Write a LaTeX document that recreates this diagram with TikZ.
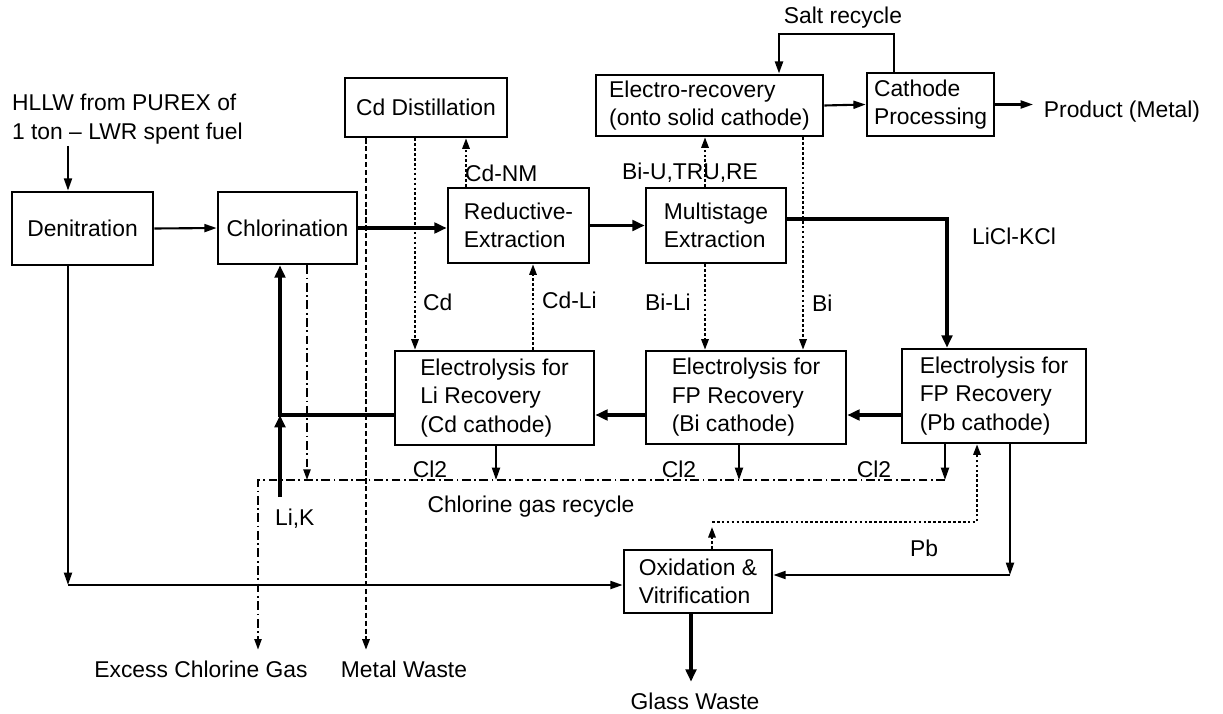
\documentclass[tikz,border=0pt]{standalone}
\usepackage{fontspec}
\setmainfont{Liberation Sans}
\usetikzlibrary{arrows.meta}

\begin{document}
\begin{tikzpicture}[x=0.02cm, y=-0.02cm,
        font=\fontsize{13}{16.2}\selectfont,
        unit/.style={draw, line width=1.5pt, align=left, inner sep=2pt},
        lbl/.style={inner sep=1pt},
        sink/.style={inner sep=6pt},
        flow/.style={line width=1.2pt, -{Triangle[length=7pt,width=4.5pt]}},
        heavy/.style={line width=2.2pt, -{Triangle[length=7pt,width=6pt]}},
        dots/.style={line width=1.1pt, dash pattern=on 1.5pt off 1.3pt, -{Triangle[length=6pt,width=4.2pt]}},
        dashes/.style={line width=1.1pt, dash pattern=on 3pt off 1.5pt, -{Triangle[length=6pt,width=4.2pt]}},
        gas/.style={line width=1.1pt, dash pattern=on 5pt off 2pt on 1pt off 2pt}]
    \useasboundingbox (0,0) rectangle (1223,713);

    % process units
    \node[unit, minimum width=2.82cm, minimum height=1.46cm] (den) at (82.5,228.5) {Denitration};
    \node[unit, minimum width=2.78cm, minimum height=1.44cm] (chl) at (287.5,228) {Chlorination};
    \node[unit, minimum width=3.24cm, minimum height=1.18cm] (cdd) at (426,107.5) {Cd Distillation};
    \node[unit, minimum width=2.82cm, minimum height=1.50cm] (red) at (518.5,225.5) {Reductive-\\Extraction};
    \node[unit, minimum width=2.80cm, minimum height=1.50cm] (mul) at (716,225.5) {Multistage\\Extraction};
    \node[unit, minimum width=4.54cm, minimum height=1.22cm] (ele) at (709.5,105.5) {Electro-recovery\\(onto solid cathode)};
    \node[unit, minimum width=2.54cm, minimum height=1.26cm] (cat) at (930.5,104.5) {Cathode\\Processing};
    \node[unit, minimum width=3.98cm, minimum height=1.88cm] (lir) at (494.5,398) {Electrolysis for\\Li Recovery\\(Cd cathode)};
    \node[unit, minimum width=4.00cm, minimum height=1.86cm] (fbi) at (746,397.5) {Electrolysis for\\FP Recovery\\(Bi cathode)};
    \node[unit, minimum width=3.68cm, minimum height=1.88cm] (fpb) at (994,396) {Electrolysis for\\FP Recovery\\(Pb cathode)};
    \node[unit, minimum width=2.96cm, minimum height=1.26cm] (oxv) at (698,581.5) {Oxidation \&\\Vitrification};

    % feeds and products
    \node[lbl, anchor=west, align=left] (hllw) at (10,119) {HLLW from PUREX of\\1 ton -- LWR spent fuel};
    \node[lbl] (salt) at (843,18) {Salt recycle};
    \node[sink, anchor=west] (prod) at (1033,112) {Product (Metal)};
    \node[sink] (exc) at (201,669) {Excess Chlorine Gas};
    \node[sink] (mw) at (404,669) {Metal Waste};
    \node[sink] (glass) at (695,701) {Glass Waste};

    % stream labels
    \node[lbl, anchor=west] (cdnm) at (463,173) {Cd-NM};
    \node[lbl, anchor=west] (biu) at (620,173) {Bi-U,TRU,RE};
    \node[lbl, anchor=west] (licl) at (970,236) {LiCl-KCl};
    \node[lbl, anchor=west] (cdl) at (421,302) {Cd};
    \node[lbl, anchor=west] (cdli) at (540,300) {Cd-Li};
    \node[lbl, anchor=west] (bili) at (643,302) {Bi-Li};
    \node[lbl, anchor=west] (bil) at (810,303) {Bi};
    \node[lbl] (cla) at (430,469) {Cl2};
    \node[lbl] (clb) at (679,469) {Cl2};
    \node[lbl] (clc) at (874,469) {Cl2};
    \node[lbl] (gasrec) at (531,507) {Chlorine gas recycle};
    \node[lbl, anchor=west] (lik) at (273,519) {Li,K};
    \node[lbl] (pbl) at (924,548) {Pb};

    % turning points
    \coordinate (denturn) at (68,585);
    \coordinate (saltr) at (894,34);
    \coordinate (saltl) at (779,34);
    \coordinate (liclturn) at (947,219);
    \coordinate (likin) at (280,497);
    \coordinate (lijoin) at (280,415);
    \coordinate (chlgas) at (307,480);
    \coordinate (gasl) at (258,480);
    \coordinate (gasa) at (496,480);
    \coordinate (gasb) at (739,480);
    \coordinate (gasc) at (945,480);
    \coordinate (pbup) at (712,522);
    \coordinate (pbturn) at (977,522);
    \coordinate (oxturn) at (1010,575);
    \coordinate (mwcol) at (366,0);
    \coordinate (cdcol) at (415,0);
    \coordinate (nmcol) at (466,0);
    \coordinate (licol) at (533,0);
    \coordinate (bucol) at (705,0);
    \coordinate (bicol) at (803,0);
    \coordinate (glcol) at (691,0);

    % main salt route
    \draw[flow] (hllw.south -| denturn) -- (den.north -| denturn);
    \draw[flow] (den.east) -- (chl.west);
    \draw[heavy] (chl.east) -- (chl.east -| red.west);
    \draw[heavy] (red.east) -- (mul.west);
    \draw[heavy] (mul.east |- liclturn) -- (liclturn) -- (fpb.north -| liclturn);
    \draw[heavy] (fpb.west |- lijoin) -- (fbi.east |- lijoin);
    \draw[heavy] (fbi.west |- lijoin) -- (lir.east |- lijoin);
    \draw[heavy] (lir.west |- lijoin) -- (lijoin) -- (chl.south -| lijoin);
    \draw[heavy] (likin) -- (lijoin);

    % metal recovery
    \draw[flow] (ele.east) -- (cat.west);
    \draw[flow] (cat.east) -- (cat.east -| prod.west);
    \draw[flow, line width=1.5pt] (cat.north -| saltr) -- (saltr) -- (saltl) -- (ele.north -| saltl);

    % metal streams
    \draw[dots] (red.north -| nmcol) -- (cdd.south -| nmcol);
    \draw[dots] (cdd.south -| cdcol) -- (lir.north -| cdcol);
    \draw[dots] (lir.north -| licol) -- (red.south -| licol);
    \draw[dots] (mul.north -| bucol) -- (ele.south -| bucol);
    \draw[dots] (mul.south -| bucol) -- (fbi.north -| bucol);
    \draw[dots] (ele.south -| bicol) -- (fbi.north -| bicol);
    \draw[dashes] (cdd.south -| mwcol) -- (mw.north -| mwcol);

    % chlorine gas
    \draw[gas, -{Triangle[length=6pt,width=4pt]}] (chl.south -| chlgas) -- (chlgas);
    \draw[flow] (lir.south -| gasa) -- (gasa);
    \draw[flow] (fbi.south -| gasb) -- (gasb);
    \draw[flow] (fpb.south -| gasc) -- (gasc);
    \draw[gas, -{Triangle[length=6pt,width=4pt]}] (gasc) -- (gasl) -- (exc.north -| gasl);

    % waste
    \draw[flow] (den.south -| denturn) -- (denturn);
    \draw[flow] (denturn) -- (oxv.west |- denturn);
    \draw[flow] (fpb.south -| oxturn) -- (oxturn);
    \draw[flow] (oxturn) -- (oxv.east |- oxturn);
    \draw[dots] (oxv.north -| pbup) -- ([yshift=-0.1cm]pbup);
    \draw[dots] (pbup) -- (pbturn) -- (fpb.south -| pbturn);
    \draw[heavy] (oxv.south -| glcol) -- (glass.north -| glcol);
\end{tikzpicture}
\end{document}
